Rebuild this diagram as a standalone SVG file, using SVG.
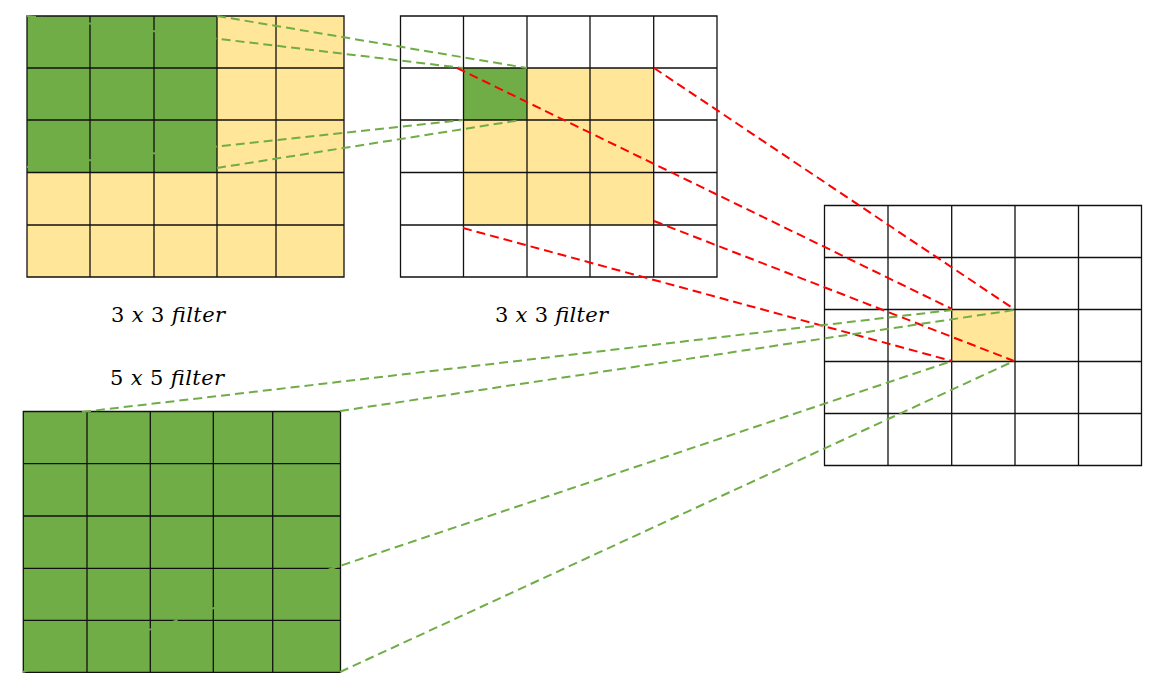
<svg xmlns="http://www.w3.org/2000/svg" width="1160" height="678" viewBox="0 0 1160 678">
<style>
.bg{fill:#ffffff}
.grid{fill:none;stroke:#111;stroke-width:1.3}
.g{fill:#70AD47}
.y{fill:#FFE699}
.dg{fill:none;stroke:#70AD47;stroke-width:2;stroke-dasharray:9 5}
.dr{fill:none;stroke:#FF0000;stroke-width:2;stroke-dasharray:9 5}
.lbl{font-family:"DejaVu Serif","Liberation Serif",serif;font-size:21px;fill:#000}
.it{font-style:italic}
</style>
<rect class="bg" x="0" y="0" width="1160" height="678"/>

<g id="input-grid">
<rect class="y" x="27" y="16" width="317" height="261"/>
<rect class="g" x="27" y="16" width="190" height="156.5"/>
<path class="grid" d="M27 16H344V277H27Z M90 16V277 M154 16V277 M217 16V277 M276 16V277 M27 68H344 M27 120H344 M27 172.5H344 M27 225H344"/>
</g>

<g id="middle-grid">
<rect class="y" x="463.5" y="68" width="190.2" height="157"/>
<rect class="g" x="463.5" y="68" width="63.5" height="52"/>
<path class="grid" d="M400.5 16H717V277H400.5Z M463.5 16V277 M527 16V277 M590 16V277 M653.7 16V277 M400.5 68H717 M400.5 120H717 M400.5 172.5H717 M400.5 225H717"/>
</g>

<g id="output-grid">
<rect class="y" x="951.7" y="309.5" width="63.3" height="52"/>
<path class="grid" d="M824.5 205.5H1141.5V465.5H824.5Z M888 205.5V465.5 M951.7 205.5V465.5 M1015 205.5V465.5 M1078.5 205.5V465.5 M824.5 257.5H1141.5 M824.5 309.5H1141.5 M824.5 361.5H1141.5 M824.5 413.5H1141.5"/>
</g>

<g id="filter5-grid">
<rect class="g" x="23.3" y="411.5" width="317.2" height="260.8"/>
<path class="grid" d="M23.3 411.5H340.5V672.3H23.3Z M87 411.5V672.3 M150.3 411.5V672.3 M213.3 411.5V672.3 M272.7 411.5V672.3 M23.3 463.7H340.5 M23.3 516H340.5 M23.3 568.3H340.5 M23.3 620.3H340.5"/>
</g>

<g id="labels">
<text class="lbl" x="111" y="322" textLength="114" lengthAdjust="spacing">3 <tspan class="it">x</tspan> 3 <tspan class="it">filter</tspan></text>
<text class="lbl" x="495" y="322" textLength="113" lengthAdjust="spacing">3 <tspan class="it">x</tspan> 3 <tspan class="it">filter</tspan></text>
<text class="lbl" x="110" y="385" textLength="114" lengthAdjust="spacing">5 <tspan class="it">x</tspan> 5 <tspan class="it">filter</tspan></text>
</g>

<g id="connectors">
<path class="dg" d="M217 16L527 68"/>
<path class="dg" d="M27 16L463 68"/>
<path class="dg" d="M27 167L463 120"/>
<path class="dg" d="M217 168L521 120"/>
<path class="dr" d="M457 68L952 309"/>
<path class="dr" d="M654 68L1014 309"/>
<path class="dr" d="M654 221L1014 361"/>
<path class="dr" d="M463 228L952 361"/>
<path class="dg" d="M82 412L952 310"/>
<path class="dg" d="M340 411L1014 310"/>
<path class="dg" d="M23 672L952 361"/>
<path class="dg" d="M340 672L1014 361"/>
</g>
</svg>
